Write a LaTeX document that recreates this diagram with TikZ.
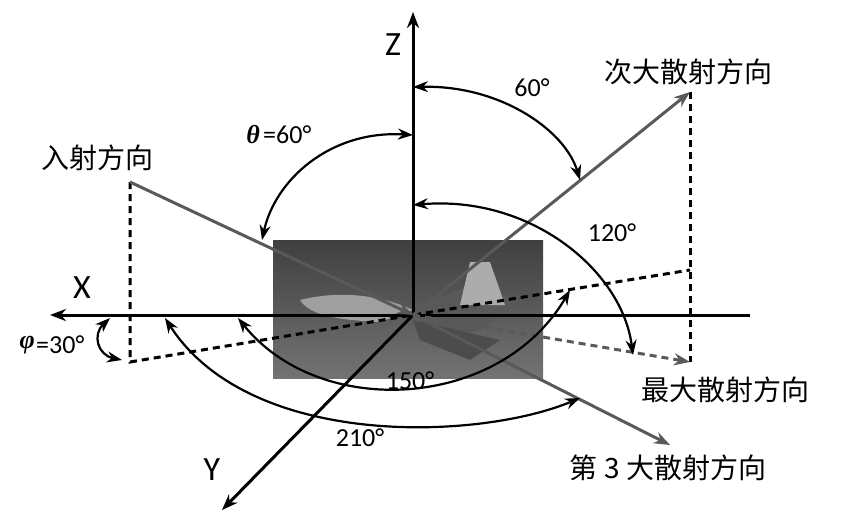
\documentclass[tikz,border=0pt]{standalone}
\usepackage{fontspec}
\setmainfont{Carlito}
\newfontfamily\cjk{Noto Sans CJK SC}
\newfontfamily\grk{Liberation Serif}
\usetikzlibrary{arrows.meta}
\tikzset{
 tip/.style={-{Stealth[length=16pt,width=12pt]}},
 both/.style={{Stealth[length=15pt,width=11pt]}-{Stealth[length=15pt,width=11pt]}},
 axis/.style={line width=3pt,tip},
 ray/.style={line width=3pt,draw=gray!70!black,-{Stealth[length=16pt,width=12pt]}},
 dot/.style={line width=3pt,dash pattern=on 7pt off 5pt},
 arc/.style={line width=2.2pt,both},
 lab/.style={font=\fontsize{26}{28}\selectfont,inner sep=0pt},
 glab/.style={font=\grk\bfseries\itshape\fontsize{26}{28}\selectfont,inner sep=0pt},
 clab/.style={font=\cjk\fontsize{28}{30}\selectfont,inner sep=0pt}
}
\begin{document}
\begin{tikzpicture}[x=1pt,y=-1pt]
\useasboundingbox (0,0) rectangle (850,519);
% image
\shade[top color=black!75,bottom color=black!55] (273,240) rectangle (543,378);
\fill[gray!75] (300,300) .. controls (340,290) and (380,295) .. (413,310) -- (380,322) .. controls (340,320) and (310,316) .. (300,300) -- cycle;
\fill[black!65] (413,310) -- (470,285) -- (520,300) -- (480,330) -- (430,340) -- cycle;
\fill[gray!65] (460,305) -- (470,262) -- (490,262) -- (505,305) -- cycle;
\fill[black!70] (413,320) -- (500,340) -- (470,360) -- (420,340) -- cycle;
\coordinate (O) at (413,315);
% axes
\coordinate (Xe) at (750,315); \coordinate (Xt) at (50,315);
\coordinate (Zb) at (413,315); \coordinate (Zt) at (413,12);
\coordinate (Yt) at (222,510);
\draw[axis] (Xe) -- (Xt);
\draw[axis] (Zb) -- (Zt);
\draw[axis] (O) -- (Yt);
\node[lab,font=\fontsize{34}{36}\selectfont] (xl) at (82,288) {X};
\node[lab,font=\fontsize{34}{36}\selectfont] (zl) at (393,45) {Z};
\node[lab,font=\fontsize{34}{36}\selectfont] (yl) at (212,470) {Y};
% projection lines
\coordinate (I) at (130,182); \coordinate (Ip) at (130,362);
\coordinate (S) at (690,92); \coordinate (Sp) at (690,270); \coordinate (M) at (690,362);
\coordinate (T) at (670,445);
\draw[dot] (I) -- (Ip) -- (O) -- (Sp);
\draw[dot] (S) -- (M);
\draw[ray] (I) -- (O);
\draw[ray] (O) -- (S);
\draw[ray] (O) -- (T);
\draw[ray,dot,draw=gray!70!black] (O) -- (M);
% labels
\node[clab] (li) at (97,158) {入射方向};
\node[clab] (ls) at (688,72) {次大散射方向};
\node[clab] (lm) at (725,390) {最大散射方向};
\node[clab] (lt) at (668,468) {第 3 大散射方向};
% arcs
\draw[arc] (413,135) .. controls (330,130) and (275,180) .. (262,240);
\draw[arc] (413,87) .. controls (500,85) and (565,130) .. (580,180);
\draw[arc] (413,205) .. controls (530,195) and (622,270) .. (633,355);
\draw[arc] (110,318) .. controls (92,335) and (98,355) .. (122,360);
\draw[arc] (238,318) .. controls (320,420) and (500,410) .. (570,290);
\draw[arc] (165,318) .. controls (250,450) and (480,440) .. (580,398);
\node[glab,anchor=east] (th) at (260,135) {θ};
\node[lab,anchor=west] (thv) at (263,135) {=60°};
\node[lab] (a60) at (532,88) {60°};
\node[lab] (a120) at (612,233) {120°};
\node[glab,anchor=east] (ph) at (35,345) {φ};
\node[lab,anchor=west] (phv) at (36,345) {=30°};
\node[lab] (a150) at (410,381) {150°};
\node[lab] (a210) at (360,438) {210°};
\end{tikzpicture}
\end{document}
